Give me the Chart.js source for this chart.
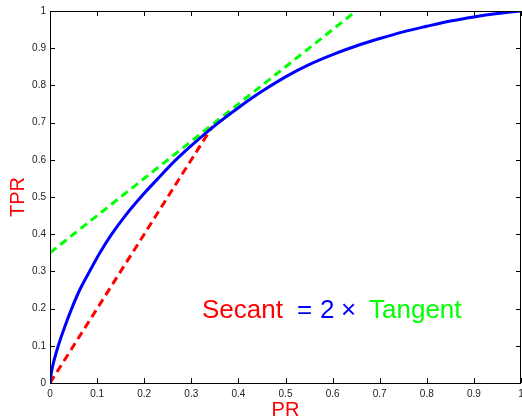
<!DOCTYPE html>
<html>
<head>
<meta charset="utf-8">
<script src="https://cdn.jsdelivr.net/npm/chart.js@4"></script>
<style>
  html, body { margin: 0; padding: 0; background: #fff; }
  #wrap { width: 522px; height: 418px; }
</style>
</head>
<body>
<div id="wrap"><canvas id="roc"></canvas></div>
<script>
// data
const prX = [0, 0.0025, 0.0065, 0.0175, 0.031, 0.046, 0.063, 0.084, 0.106, 0.131, 0.160, 0.193, 0.228, 0.265, 0.3, 0.35, 0.4, 0.45, 0.5, 0.55, 0.6, 0.65, 0.7, 0.75, 0.8, 0.85, 0.9, 0.95, 1.0];
const tprY = [0, 0.025, 0.05, 0.10, 0.15, 0.20, 0.25, 0.30, 0.35, 0.40, 0.45, 0.50, 0.548, 0.597, 0.638, 0.692, 0.74, 0.784, 0.823, 0.856, 0.883, 0.906, 0.926, 0.944, 0.959, 0.973, 0.984, 0.993, 1.0];
const secantX = [0, 0.345];
const secantY = [0, 0.69];
const tangentX = [0, 0.65];
const tangentY = [0.35, 1.0];
const tickVals = [0, 0.1, 0.2, 0.3, 0.4, 0.5, 0.6, 0.7, 0.8, 0.9, 1];
const tickLabels = ['0', '0.1', '0.2', '0.3', '0.4', '0.5', '0.6', '0.7', '0.8', '0.9', '1'];

const pts = (xs, ys) => xs.map((x, i) => ({ x: x, y: ys[i] }));
const FONT = "'Liberation Sans', Arial, Helvetica, sans-serif";

// matlab style box with inward ticks + axis titles + annotation
const boxPlugin = {
    id: 'box',
    afterDraw(chart) {
        const { ctx, chartArea: a, scales } = chart;
        ctx.save();
        ctx.strokeStyle = '#000';
        ctx.lineWidth = 1;
        ctx.strokeRect(a.left + 0.5, a.top + 0.5, a.right - a.left - 1, a.bottom - a.top);
        ctx.beginPath();
        tickVals.forEach(v => {
            const px = Math.round(scales.x.getPixelForValue(v)) + 0.5;
            ctx.moveTo(px, a.bottom); ctx.lineTo(px, a.bottom - 5);
            ctx.moveTo(px, a.top); ctx.lineTo(px, a.top + 5);
            const py = Math.round(scales.y.getPixelForValue(v)) + 0.5;
            ctx.moveTo(a.left, py); ctx.lineTo(a.left + 5, py);
            ctx.moveTo(a.right, py); ctx.lineTo(a.right - 5, py);
        });
        ctx.stroke();

        // axis titles
        ctx.fillStyle = '#ff0000';
        ctx.font = '20px ' + FONT;
        ctx.textAlign = 'center';
        ctx.textBaseline = 'alphabetic';
        ctx.fillText('PR', (a.left + a.right) / 2, 416);
        ctx.save();
        ctx.translate(24, (a.top + a.bottom) / 2);
        ctx.rotate(-Math.PI / 2);
        ctx.fillText('TPR', 0, 0);
        ctx.restore();

        // annotation
        ctx.textAlign = 'left';
        ctx.font = '26px ' + FONT;
        const base = 318;
        ctx.fillStyle = '#ff0000';
        ctx.fillText('Secant', 202, base);
        ctx.fillStyle = '#0000ff';
        ctx.fillText('=', 297, base);
        ctx.fillText('2', 320, base);
        ctx.fillText('\u00d7', 341, base);
        ctx.fillStyle = '#00ff00';
        ctx.fillText('Tangent', 369, base);
        ctx.restore();
    }
};

new Chart(document.getElementById('roc'), {
    type: 'line',
    data: {
        datasets: [{
            label: 'tangent',
            data: pts(tangentX, tangentY),
            borderColor: '#00ff00',
            borderWidth: 3,
            borderDash: [8, 5],
            pointRadius: 0,
            order: 2
        }, {
            label: 'secant',
            data: pts(secantX, secantY),
            borderColor: '#ff0000',
            borderWidth: 3,
            borderDash: [8, 5],
            pointRadius: 0,
            order: 1
        }, {
            label: 'curve',
            data: pts(prX, tprY),
            borderColor: '#0000ff',
            borderWidth: 3,
            pointRadius: 0,
            cubicInterpolationMode: 'monotone',
            order: 0
        }]
    },
    options: {
        responsive: true,
        maintainAspectRatio: false,
        animation: false,
        layout: { padding: { top: 11, right: 1, left: 0, bottom: 0 } },
        plugins: { legend: { display: false }, tooltip: { enabled: false } },
        scales: {
            x: {
                type: 'linear',
                min: 0, max: 1,
                grid: { display: false, drawTicks: false },
                border: { display: false },
                afterBuildTicks: (s) => { s.ticks = tickVals.map(v => ({ value: v })); },
                afterFit: (s) => { s.height = 35; s.paddingLeft = 0; s.paddingRight = 0; },
                ticks: {
                    padding: 5,
                    maxRotation: 0,
                    autoSkip: false,
                    color: '#222',
                    font: { family: FONT, size: 10 },
                    callback: (v, i) => tickLabels[i]
                }
            },
            y: {
                type: 'linear',
                min: 0, max: 1,
                grid: { display: false, drawTicks: false },
                border: { display: false },
                afterBuildTicks: (s) => { s.ticks = tickVals.map(v => ({ value: v })); },
                afterFit: (s) => { s.width = 50; s.paddingTop = 0; s.paddingBottom = 0; },
                ticks: {
                    padding: 4,
                    autoSkip: false,
                    color: '#222',
                    font: { family: FONT, size: 10 },
                    callback: (v, i) => tickLabels[i]
                }
            }
        }
    },
    plugins: [boxPlugin]
});
</script>
</body>
</html>
